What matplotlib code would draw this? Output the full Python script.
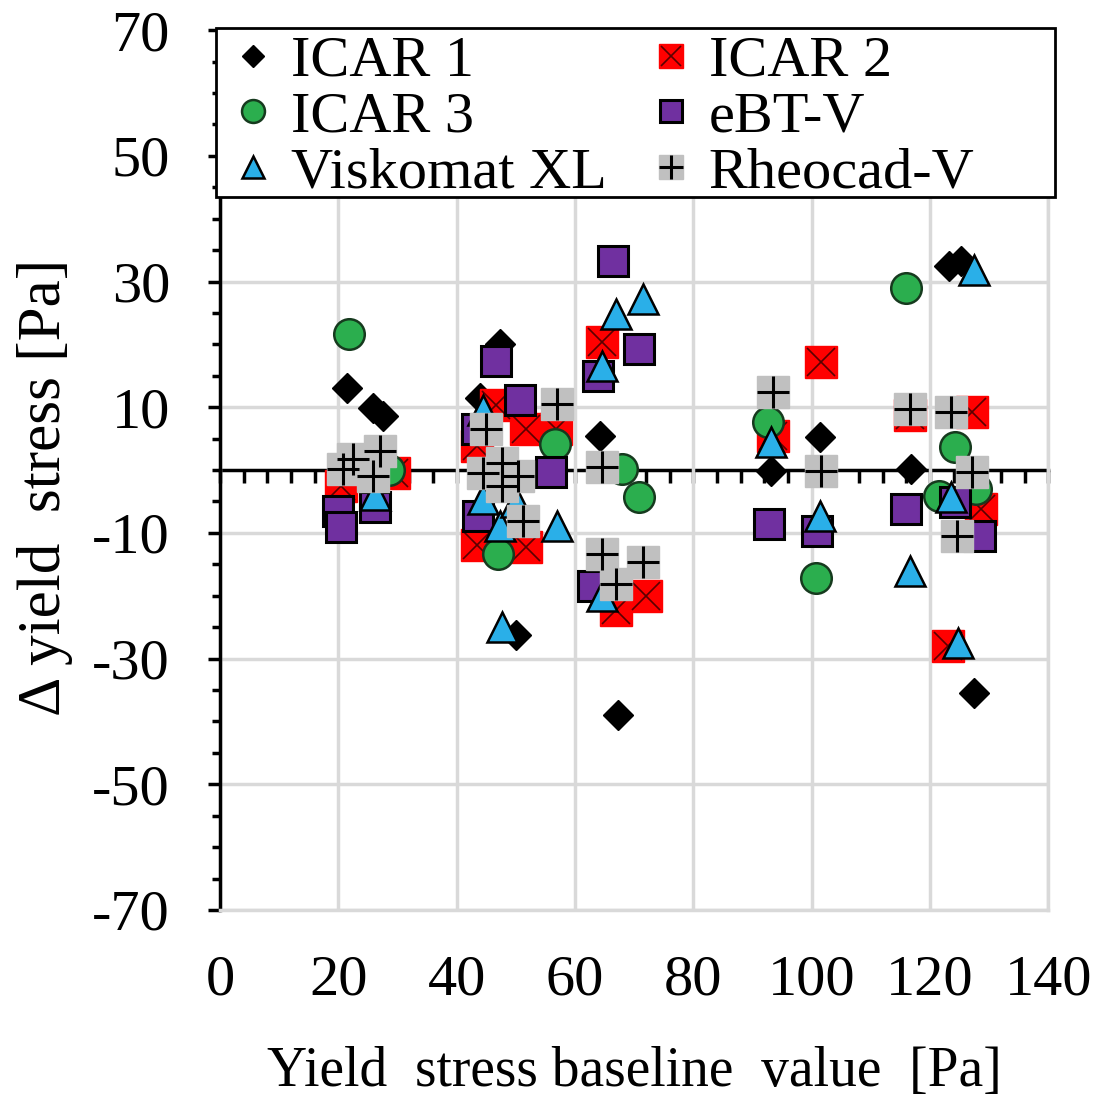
import matplotlib.pyplot as plt
from matplotlib.patches import Rectangle
import numpy as np

plt.rcParams['font.family'] = ['Liberation Serif', 'DejaVu Serif']
plt.rcParams['axes.unicode_minus'] = False

# ICAR 1
x_icar1 = [21.5, 25.8, 27.5, 47.3, 44.0, 50.1, 64.2, 67.3, 93.2, 101.4, 116.8, 123.3, 125.3, 127.5]
y_icar1 = [13.0, 9.8, 8.6, 20.0, 11.5, -26.2, 5.4, -38.9, -0.1, 5.3, 0.2, 32.5, 33.2, -35.4]
# ICAR 2
x_icar2 = [20.5, 29.5, 46.7, 51.8, 56.8, 43.4, 43.4, 51.8, 64.5, 67.0, 72.0, 93.5, 101.6, 116.6, 127.2, 128.6, 123.0]
y_icar2 = [-2.5, -0.5, 10.3, 6.5, 6.5, 3.9, -12.0, -12.3, 20.4, -22.2, -20.0, 5.4, 17.2, 8.7, 9.2, -6.2, -28.0]
# ICAR 3
x_icar3 = [21.8, 28.5, 47.0, 56.6, 67.9, 70.9, 92.6, 100.8, 116.0, 124.2, 121.6, 127.8]
y_icar3 = [21.7, 0.0, -13.4, 4.1, 0.2, -4.3, 7.6, -17.1, 28.9, 3.7, -4.1, -3.0]
# eBT-V
x_ebt = [20.0, 20.5, 26.2, 46.7, 50.7, 43.5, 56.0, 43.6, 66.4, 70.9, 63.9, 63.0, 92.8, 101.0, 116.0, 124.2, 128.4]
y_ebt = [-6.5, -9.0, -5.9, 17.4, 11.1, 6.5, -0.3, -7.3, 33.3, 19.3, 15.0, -18.5, -8.6, -9.7, -6.2, -5.1, -10.5]
# Viskomat XL
x_visk = [26.2, 44.5, 44.5, 47.3, 56.9, 47.6, 50.1, 71.5, 67.0, 64.5, 64.5, 93.2, 101.4, 116.6, 123.6, 124.7, 127.5]
y_visk = [-4.0, 9.5, -4.6, -8.9, -8.9, -24.9, -5.1, 27.3, 24.9, 16.6, -20.1, 4.5, -7.3, -16.0, -4.3, -27.5, 31.8]
# Rheocad-V
x_rheo = [20.8, 22.5, 25.9, 27.0, 45.0, 47.6, 44.5, 50.4, 47.6, 51.2, 56.9, 64.5, 64.5, 71.5, 67.0,
          93.5, 101.6, 116.6, 123.6, 127.2, 124.6]
y_rheo = [0.2, 1.8, -0.9, 3.1, 6.5, 1.2, -0.4, -0.9, -2.5, -8.1, 10.5, 0.5, -13.4, -14.7, -18.2,
          12.4, -0.1, 9.7, 9.2, -0.3, -10.5]

fig = plt.figure(figsize=(10.97, 10.97), dpi=100)
ax = fig.add_axes([0.2005, 0.1705, 0.755, 0.802])

h1, = ax.plot(x_icar1, y_icar1, 'D', ms=15, color='black', ls='none')
h2a, = ax.plot(x_icar2, y_icar2, 's', ms=23, color='#FF0000', mec='#FF0000', ls='none')
h2b, = ax.plot(x_icar2, y_icar2, 'x', ms=20, color='#5A0000', mew=1.2, ls='none')
h3, = ax.plot(x_icar3, y_icar3, 'o', ms=22, color='#2BAE4E', mec='#163A1E', mew=1.8, ls='none')
h4, = ax.plot(x_ebt, y_ebt, 's', ms=21, color='#7030A0', mec='black', mew=2.2, ls='none')
h5, = ax.plot(x_visk, y_visk, '^', ms=21, color='#2AAFE8', mec='black', mew=1.8, ls='none')
h6a, = ax.plot(x_rheo, y_rheo, 's', ms=23, color='#C0C0C0', mec='#C0C0C0', ls='none')
h6b, = ax.plot(x_rheo, y_rheo, '+', ms=23, color='black', mew=2.2, ls='none')

ax.set_xlim(0, 140)
ax.set_ylim(-70, 70)
ax.set_xticks(np.arange(0, 141, 20))
ax.set_yticks(np.arange(-70, 71, 20))
ax.set_yticks(np.arange(-70, 71, 5), minor=True)
ax.grid(True, color='#D9D9D9', lw=2.5)
ax.set_axisbelow(True)
ax.tick_params(axis='x', length=0, pad=32, labelsize=42)
ax.tick_params(axis='y', which='major', length=9, width=2.5, pad=27, labelsize=42, direction='out')
ax.tick_params(axis='y', which='minor', length=6, width=2.5, direction='out')
for s in ['bottom', 'right', 'top']:
    ax.spines[s].set_color('#D9D9D9')
    ax.spines[s].set_linewidth(2.5)
ax.spines['left'].set_linewidth(2.5)

# axe horizontal a y=0
sec = ax.secondary_xaxis(0.5)
sec.set_xticks(np.arange(0, 141, 4))
sec.tick_params(direction='in', length=9, width=2.5, labeltop=False, labelbottom=False)
for s in sec.spines.values():
    s.set_linewidth(2.5)
    s.set_color('black')

ax.set_xlabel('Yield  stress baseline  value  [Pa]', fontsize=40)
ax.set_ylabel('Δ yield  stress [Pa]', fontsize=44)
ax.xaxis.set_label_coords(0.5, -0.155)
ax.yaxis.set_label_coords(-0.178, 0.48)

handles = [h1, h3, h5, (h2a, h2b), h4, (h6a, h6b)]
labels = ['ICAR 1', 'ICAR 3', 'Viskomat XL', 'ICAR 2', 'eBT-V', 'Rheocad-V']
leg = fig.legend(handles, labels, ncol=2, loc='upper left', bbox_to_anchor=(0.212, 0.968),
                 fontsize=42, markerscale=0.75, handlelength=0.7, handletextpad=0.3,
                 columnspacing=0.75, labelspacing=0.05, borderpad=0.0, borderaxespad=0,
                 frameon=False)
# cadre de la legende
fig.patches.append(Rectangle((216/1097, 1-197/1097), 839/1097, 169/1097, transform=fig.transFigure,
                             facecolor='white', edgecolor='black', lw=2, zorder=2))
leg.set_zorder(3)

plt.savefig('out.png', dpi=100)
